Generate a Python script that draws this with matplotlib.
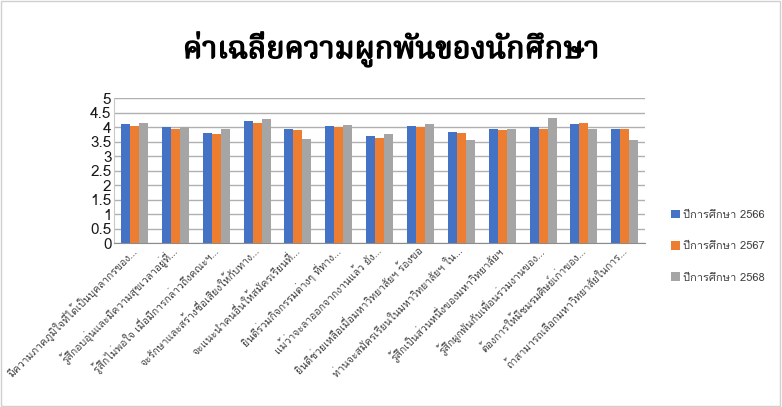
import matplotlib
matplotlib.use("Agg")
import matplotlib.pyplot as plt
import matplotlib.patheffects as pe
import matplotlib.transforms as mtransforms
import numpy as np
from matplotlib import font_manager
from matplotlib.ft2font import FT2Font

title = "ค่าเฉลี่ยความผูกพันของนักศึกษา"

categories = [
    "มีความภาคภูมิใจที่ได้เป็นบุคลากรของ...",
    "รู้สึกอบอุ่นและมีความสุขเวลาอยู่ที่...",
    "รู้สึกไม่พอใจ เมื่อมีการกล่าวถึงคณะฯ...",
    "จะรักษาและสร้างชื่อเสียงให้กับทาง...",
    "จะแนะนำคนอื่นให้สมัครเรียนที่...",
    "ยินดีร่วมกิจกรรมต่างๆ ที่ทาง...",
    "แม้ว่าจะลาออกจากงานแล้ว ยัง...",
    "ยินดีช่วยเหลือเมื่อมหาวิทยาลัยฯ ร้องขอ",
    "ท่านจะสมัครเรียนในมหาวิทยาลัยฯ ใน...",
    "รู้สึกเป็นส่วนหนึ่งของมหาวิทยาลัยฯ",
    "รู้สึกผูกพันกับเพื่อนร่วมงานของ...",
    "ต้องการให้มีชมรมศิษย์เก่าของ...",
    "ถ้าสามารถเลือกมหาวิทยาลัยในการ...",
]

series_names = ["ปีการศึกษา 2566", "ปีการศึกษา 2567", "ปีการศึกษา 2568"]
y2566 = [4.11, 4.00, 3.80, 4.21, 3.94, 4.04, 3.70, 4.06, 3.85, 3.95, 4.01, 4.11, 3.95]
y2567 = [4.06, 3.95, 3.78, 4.15, 3.91, 4.01, 3.65, 4.01, 3.80, 3.91, 3.95, 4.16, 3.95]
y2568 = [4.15, 4.00, 3.95, 4.28, 3.60, 4.08, 3.78, 4.11, 3.56, 3.95, 4.33, 3.95, 3.56]

colors = ["#4472C4", "#ED7D31", "#A5A5A5"]


# fonts that can draw thai
found = []
for f in font_manager.fontManager.ttflist:
    try:
        if ord("ก") in FT2Font(f.fname).get_charmap():
            found.append(f.name)
    except Exception:
        pass


def pick(prefer):
    for p in prefer:
        if p in found:
            return p
    if found:
        return found[0]
    return "DejaVu Sans"


body_font = pick(["Tahoma", "Loma", "Garuda", "Noto Sans Thai Looped", "Noto Sans Thai", "Noto Serif Thai"])
title_font = pick(["Noto Serif Thai", "Norasi", "Kinnari", "Noto Sans Thai Looped", "Loma", "Noto Sans Thai"])
plt.rcParams["font.family"] = [body_font, "DejaVu Sans"]

fig = plt.figure(figsize=(7.82, 4.07), dpi=100)
ax = fig.add_axes([0.146, 0.402, 0.679, 0.356])

x = np.arange(len(categories))
w = 0.22
for i, vals in enumerate([y2566, y2567, y2568]):
    ax.bar(x + (i - 1) * w, vals, width=w, color=colors[i], label=series_names[i], zorder=3)

ax.set_xlim(-0.5, len(categories) - 0.5)
ax.set_ylim(0, 5)
ax.set_yticks(np.arange(0, 5.01, 0.5))
ax.set_yticklabels(["0", "0.5", "1", "1.5", "2", "2.5", "3", "3.5", "4", "4.5", "5"], fontsize=11, color="#1a1a1a")
ax.set_xticks(x)
ax.set_xticklabels(categories, rotation=45, ha="right", va="center", rotation_mode="anchor",
                   fontsize=7.5, color="#404040")
shift = mtransforms.ScaledTranslation(8 / 100, -10 / 100, fig.dpi_scale_trans)
for lab in ax.get_xticklabels():
    lab.set_transform(lab.get_transform() + shift)
ax.tick_params(axis="both", length=0, pad=4)
ax.tick_params(axis="y", pad=2)
ax.yaxis.grid(True, color="#B0B0B0", linewidth=1, zorder=0)
for s in ["top", "right"]:
    ax.spines[s].set_visible(False)
ax.spines["left"].set_color("#C8C8C8")
ax.spines["bottom"].set_color("#8C8C8C")

fig.text(0.5, 0.878, title, ha="center", va="center", fontsize=22, fontweight="bold",
         color="black", family=[title_font, "DejaVu Sans"],
         path_effects=[pe.withStroke(linewidth=1.0, foreground="black")])

fig.legend(loc="center left", bbox_to_anchor=(0.845, 0.395), frameon=False, fontsize=8,
           labelspacing=1.9, handlelength=0.8, handleheight=0.8, handletextpad=0.3,
           labelcolor="#404040")

# light border around the chart
fig.patches.append(plt.Rectangle((0.001, 0.002), 0.996, 0.995, transform=fig.transFigure,
                                 fill=False, edgecolor="#D0D0D0", linewidth=1))

fig.savefig("out.png", dpi=100)
